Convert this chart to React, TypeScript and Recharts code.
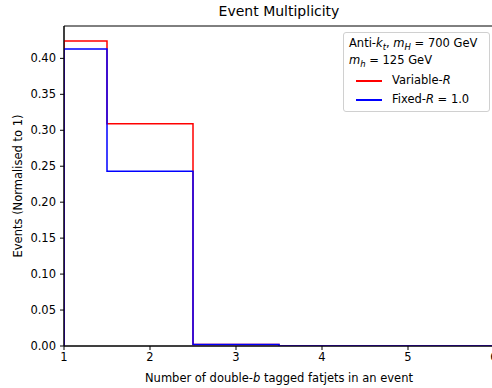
import { LineChart, Line, XAxis, YAxis, ReferenceArea, Label } from "recharts";

// histogram bins (left edges + final right edge) and normalised counts per bin
const BIN_EDGES = [1, 1.5, 2.5, 3.5, 4.5, 5.5, 6];
const VARIABLE_R = [0.424, 0.309, 0.002, 0, 0, 0];
const FIXED_R = [0.413, 0.243, 0.002, 0, 0, 0];

const X_TICKS = [1, 2, 3, 4, 5, 6];
const Y_TICKS = [0, 0.05, 0.1, 0.15, 0.2, 0.25, 0.3, 0.35, 0.4];
const Y_MAX = 0.445;

const FONT = "'DejaVu Sans', sans-serif";
const RED = "#ff0000";
const BLUE = "#0000ff";

// outline of a step histogram: rise at the first edge, one point per bin, drop at the last edge
function stepRows() {
  const rows: { x: number; variable: number; fixed: number }[] = [{ x: BIN_EDGES[0], variable: 0, fixed: 0 }];
  VARIABLE_R.forEach((v, i) => rows.push({ x: BIN_EDGES[i], variable: v, fixed: FIXED_R[i] }));
  rows.push({ x: BIN_EDGES[BIN_EDGES.length - 1], variable: 0, fixed: 0 });
  return rows;
}

const tickStyle = { fontSize: 11.5, fill: "#000", fontFamily: FONT };

function Sub({ children }: { children: string }) {
  return <span style={{ fontSize: 8.5, fontStyle: "italic", position: "relative", top: 3 }}>{children}</span>;
}

function LegendBox() {
  const row = { position: "absolute" as const, left: 0, whiteSpace: "nowrap" as const };
  return (
    <div
      style={{
        position: "absolute", left: 343, top: 32, width: 145, height: 78,
        border: "1px solid #d0d0d0", borderRadius: 3, background: "rgba(255,255,255,0.8)",
        fontFamily: FONT, fontSize: 11.5, color: "#000", lineHeight: "14px",
      }}
    >
      <div style={{ ...row, left: 5, top: 3 }}>
        Anti-<i>k</i><Sub>t</Sub>, <i>m</i><Sub>H</Sub> = 700 GeV
      </div>
      <div style={{ ...row, left: 5, top: 20 }}>
        <i>m</i><Sub>h</Sub> = 125 GeV
      </div>
      {[
        { color: RED, top: 40, label: <>Variable-<i>R</i></> },
        { color: BLUE, top: 59, label: <>Fixed-<i>R</i> = 1.0</> },
      ].map((it, i) => (
        <div key={i} style={{ ...row, left: 12, top: it.top }}>
          <span style={{ display: "inline-block", width: 26, height: 2, background: it.color, verticalAlign: "middle", marginRight: 10 }} />
          {it.label}
        </div>
      ))}
    </div>
  );
}

export default function App() {
  const data = stepRows();
  return (
    <div style={{ position: "fixed", left: 0, top: 0, width: 492, height: 388, overflow: "hidden", background: "#fff" }}>
      <div style={{ position: "absolute", left: 0, top: 3, width: 558, textAlign: "center", fontFamily: FONT, fontSize: 14, color: "#000" }}>
        Event Multiplicity
      </div>
      <LineChart width={502} height={388} data={data} margin={{ top: 26, right: 8, bottom: 0, left: 0 }}>
        <XAxis
          dataKey="x"
          type="number"
          domain={[1, 6]}
          ticks={X_TICKS}
          allowDataOverflow
          tick={tickStyle}
          tickSize={4}
          tickMargin={3}
          stroke="#000"
          height={42}
        >
          <Label
            position="insideBottom"
            content={(p: any) => {
              const vb = p.viewBox;
              return (
                <text x={vb.x + vb.width / 2} y={382} textAnchor="middle" fontSize={11.5} fontFamily={FONT} fill="#000">
                  Number of double-<tspan fontStyle="italic">b</tspan> tagged fatjets in an event
                </text>
              );
            }}
          />
        </XAxis>
        <YAxis
          type="number"
          domain={[0, Y_MAX]}
          ticks={Y_TICKS}
          allowDataOverflow
          tickFormatter={(v: number) => v.toFixed(2)}
          tick={tickStyle}
          tickSize={4}
          tickMargin={4}
          stroke="#000"
          width={64}
        >
          <Label
            value="Events (Normalised to 1)"
            angle={-90}
            position="center"
            dx={-14}
            style={{ fontSize: 11.5, fill: "#000", fontFamily: FONT }}
          />
        </YAxis>
        <ReferenceArea x1={1} x2={6} y1={0} y2={Y_MAX} fill="none" stroke="#000" strokeWidth={1} ifOverflow="visible" />
        <Line type="stepAfter" dataKey="variable" stroke={RED} strokeWidth={1.5} dot={false} isAnimationActive={false} />
        <Line type="stepAfter" dataKey="fixed" stroke={BLUE} strokeWidth={1.5} dot={false} isAnimationActive={false} />
      </LineChart>
      <LegendBox />
    </div>
  );
}
